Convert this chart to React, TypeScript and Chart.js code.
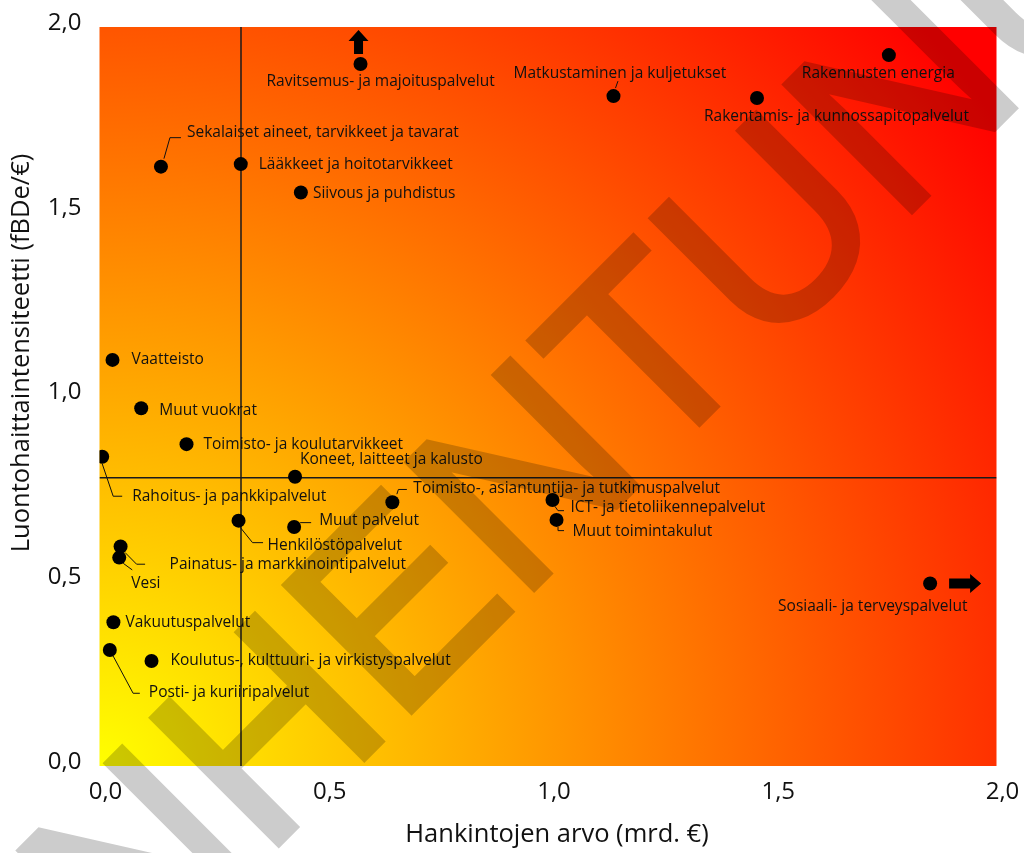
import React, { useEffect, useRef } from "react";
import { Chart, registerables } from "chart.js";

Chart.register(...registerables);

// ---------- data ----------
const categories: string[] = [
  "Ravitsemus- ja majoituspalvelut",
  "Matkustaminen ja kuljetukset",
  "Rakennusten energia",
  "Rakentamis- ja kunnossapitopalvelut",
  "Sekalaiset aineet, tarvikkeet ja tavarat",
  "Lääkkeet ja hoitotarvikkeet",
  "Siivous ja puhdistus",
  "Vaatteisto",
  "Muut vuokrat",
  "Toimisto- ja koulutarvikkeet",
  "Rahoitus- ja pankkipalvelut",
  "Koneet, laitteet ja kalusto",
  "Toimisto-, asiantuntija- ja tutkimuspalvelut",
  "ICT- ja tietoliikennepalvelut",
  "Muut toimintakulut",
  "Henkilöstöpalvelut",
  "Muut palvelut",
  "Painatus- ja markkinointipalvelut",
  "Vesi",
  "Sosiaali- ja terveyspalvelut",
  "Vakuutuspalvelut",
  "Posti- ja kuriiripalvelut",
  "Koulutus-, kulttuuri- ja virkistyspalvelut",
];

// Hankintojen arvo (mrd. €)
const procurementValue: number[] = [
  0.582, 1.146, 1.760, 1.466, 0.137, 0.315, 0.449, 0.029, 0.093, 0.194, 0.006,
  0.436, 0.653, 1.010, 1.019, 0.310, 0.434, 0.047, 0.044, 1.852, 0.031, 0.023,
  0.116,
];

// Luontohaittaintensiteetti (fBDe/€)
const impactIntensity: number[] = [
  1.900, 1.813, 1.924, 1.808, 1.622, 1.629, 1.552, 1.099, 0.968, 0.871, 0.837,
  0.783, 0.714, 0.720, 0.666, 0.664, 0.647, 0.594, 0.564, 0.494, 0.389, 0.314,
  0.284,
];

// reference (average) lines
const avgProcurement = 0.3155;
const avgIntensity = 0.78;

const xTickLabels: string[] = ["0,0", "0,5", "1,0", "1,5", "2,0"];
const yTickLabels: string[] = ["0,0", "0,5", "1,0", "1,5", "2,0"];
const xTitle = "Hankintojen arvo (mrd. €)";
const yTitle = "Luontohaittaintensiteetti (fBDe/€)";
const watermarkText = "VANHENTUNUT";

// indices of points whose value is off the chart (arrow marks)
const offChartArrows: { index: number; dir: "up" | "right" }[] = [
  { index: 0, dir: "up" },
  { index: 19, dir: "right" },
];

// ---------- label layout (pixel offsets relative to each point) ----------
type LabelLayout = { dx: number; dy: number; leader?: number[][] };
const labelLayout: LabelLayout[] = [
  { dx: -94, dy: 18 },
  { dx: -100, dy: -23, leader: [[2, -8], [4.5, -15]] },
  { dx: -87, dy: 18 },
  { dx: -53, dy: 19 },
  { dx: 26, dy: -34, leader: [[3, -8], [9, -29], [20, -29]] },
  { dx: 18, dy: 0 },
  { dx: 12, dy: 1 },
  { dx: 19, dy: 0 },
  { dx: 18, dy: 2 },
  { dx: 17, dy: 0 },
  { dx: 30, dy: 40, leader: [[0, 7], [11, 39.5], [20, 39.5]] },
  { dx: 5, dy: -17 },
  { dx: 21, dy: -14, leader: [[4.5, -8], [6, -12.7], [14.5, -12.7]] },
  { dx: 18, dy: 8, leader: [[2.5, 6.5], [5.5, 10.7], [11.5, 10.7]] },
  { dx: 16, dy: 12, leader: [[1.5, 7], [1.5, 10.7], [7.5, 10.7]] },
  { dx: 29, dy: 25, leader: [[1.5, 6.5], [14, 22], [24.5, 22]] },
  { dx: 25, dy: -6, leader: [[6, -4.3], [17, -4.3]] },
  { dx: 49, dy: 18, leader: [[4.5, 6], [16, 17.7], [24.5, 17.7]] },
  { dx: 12, dy: 26, leader: [[4, 5.7], [13, 12.3]] },
  { dx: -152, dy: 23 },
  { dx: 12, dy: 0 },
  { dx: 39, dy: 43, leader: [[3.3, 6], [23.3, 43.3], [30, 43.3]] },
  { dx: 19, dy: 0 },
];

const FONT = '"Open Sans", "Noto Sans", sans-serif';

const decorPlugin = {
  id: "decor",
  beforeDraw(chart: any) {
    const { ctx, chartArea } = chart;
    const { left, right, top, bottom } = chartArea;
    ctx.save();
    const g = ctx.createRadialGradient(left, bottom, 0, left, bottom, 1110);
    g.addColorStop(0, "#ffff00");
    g.addColorStop(1, "#ff0000");
    ctx.fillStyle = g;
    ctx.fillRect(left, top, right - left, bottom - top);
    ctx.restore();
  },
  afterDatasetsDraw(chart: any) {
    const { ctx } = chart;
    const xs = chart.scales.x;
    const ys = chart.scales.y;
    ctx.save();
    ctx.font = `15.5px ${FONT}`;
    ctx.fillStyle = "#111";
    ctx.textAlign = "left";
    ctx.textBaseline = "middle";
    ctx.strokeStyle = "#111";
    ctx.lineWidth = 1;
    categories.forEach((name, i) => {
      const px = xs.getPixelForValue(procurementValue[i]);
      const py = ys.getPixelForValue(impactIntensity[i]);
      const lay = labelLayout[i];
      if (lay.leader) {
        ctx.beginPath();
        lay.leader.forEach((p, k) => {
          if (k === 0) ctx.moveTo(px + p[0], py + p[1]);
          else ctx.lineTo(px + p[0], py + p[1]);
        });
        ctx.stroke();
      }
      ctx.fillText(name, px + lay.dx, py + lay.dy);
    });
    // arrows
    ctx.fillStyle = "#000";
    offChartArrows.forEach((a) => {
      const px = xs.getPixelForValue(procurementValue[a.index]);
      const py = ys.getPixelForValue(impactIntensity[a.index]);
      ctx.beginPath();
      if (a.dir === "up") {
        const cx = px - 2;
        ctx.moveTo(cx - 4.5, py - 10);
        ctx.lineTo(cx + 4.5, py - 10);
        ctx.lineTo(cx + 4.5, py - 23);
        ctx.lineTo(cx + 10, py - 23);
        ctx.lineTo(cx, py - 34);
        ctx.lineTo(cx - 10, py - 23);
        ctx.lineTo(cx - 4.5, py - 23);
      } else {
        ctx.moveTo(px + 19, py - 5);
        ctx.lineTo(px + 40, py - 5);
        ctx.lineTo(px + 40, py - 9.5);
        ctx.lineTo(px + 51, py);
        ctx.lineTo(px + 40, py + 9.5);
        ctx.lineTo(px + 40, py + 5);
        ctx.lineTo(px + 19, py + 5);
      }
      ctx.closePath();
      ctx.fill();
    });
    ctx.restore();
  },
  afterDraw(chart: any) {
    const { ctx } = chart;
    ctx.save();
    // axis titles
    ctx.fillStyle = "#111";
    ctx.font = `25.5px ${FONT}`;
    ctx.textAlign = "center";
    ctx.textBaseline = "middle";
    ctx.fillText(xTitle, 557, 835);
    ctx.save();
    ctx.translate(22, 353);
    ctx.rotate(-Math.PI / 2);
    ctx.fillText(yTitle, 0, 0);
    ctx.restore();
    ctx.restore();

    // watermark: drawn opaque off-screen, then composited translucently
    const dpr = chart.currentDevicePixelRatio || 1;
    const off = document.createElement("canvas");
    off.width = chart.canvas.width;
    off.height = chart.canvas.height;
    const o = off.getContext("2d");
    if (!o) return;
    o.setTransform(dpr, 0, 0, dpr, 0, 0);
    o.translate(708, 415);
    o.rotate(-Math.PI / 4);
    o.font = `260px "Liberation Sans", Arial, sans-serif`;
    o.textAlign = "left";
    o.textBaseline = "alphabetic";
    const pre = o.measureText(watermarkText.slice(0, 6)).width;
    const tw = o.measureText(watermarkText.charAt(6)).width;
    const sx = -(pre + tw / 2);
    o.fillStyle = "#000";
    o.strokeStyle = "#000";
    o.lineWidth = 6;
    o.lineJoin = "miter";
    o.fillText(watermarkText, sx, 0);
    o.strokeText(watermarkText, sx, 0);
    ctx.save();
    ctx.setTransform(1, 0, 0, 1, 0, 0);
    ctx.globalAlpha = 0.2;
    ctx.drawImage(off, 0, 0);
    ctx.restore();
  },
};

export default function App() {
  const canvasRef = useRef<HTMLCanvasElement | null>(null);

  useEffect(() => {
    document.body.style.margin = "0";
    document.body.style.overflow = "hidden";
    const canvas = canvasRef.current;
    if (!canvas) return;
    const points = procurementValue.map((x, i) => ({ x, y: impactIntensity[i] }));
    const chart = new Chart(canvas, {
      type: "scatter",
      data: {
        datasets: [
          {
            data: points,
            backgroundColor: "#000",
            borderWidth: 0,
            pointRadius: 7,
            pointHoverRadius: 7,
            order: 0,
          },
          {
            data: [
              { x: avgProcurement, y: 0 },
              { x: avgProcurement, y: 2 },
            ],
            showLine: true,
            borderColor: "#1a1a1a",
            borderWidth: 1.5,
            pointRadius: 0,
            order: 1,
          },
          {
            data: [
              { x: 0, y: avgIntensity },
              { x: 2, y: avgIntensity },
            ],
            showLine: true,
            borderColor: "#1a1a1a",
            borderWidth: 1.5,
            pointRadius: 0,
            order: 1,
          },
        ],
      },
      options: {
        responsive: false,
        animation: false,
        events: [],
        layout: { padding: { top: 27, right: 27.5, left: 0, bottom: 0 } },
        plugins: { legend: { display: false }, tooltip: { enabled: false } },
        scales: {
          x: {
            type: "linear",
            min: 0,
            max: 2,
            grid: { display: false, drawTicks: false },
            border: { display: false },
            afterFit(scale: any) {
              scale.height = 87;
              scale.paddingLeft = 0;
              scale.paddingRight = 0;
            },
            ticks: {
              stepSize: 0.5,
              padding: 12,
              labelOffset: 6,
              color: "#111",
              font: { family: FONT, size: 24 },
              callback: (v: any) => xTickLabels[Math.round(Number(v) / 0.5)] ?? "",
            },
          },
          y: {
            type: "linear",
            min: 0,
            max: 2,
            grid: { display: false, drawTicks: false },
            border: { display: false },
            afterFit(scale: any) {
              scale.width = 99.5;
              scale.paddingTop = 0;
              scale.paddingBottom = 0;
            },
            ticks: {
              stepSize: 0.5,
              padding: 18,
              labelOffset: -4,
              color: "#111",
              font: { family: FONT, size: 24 },
              callback: (v: any) => yTickLabels[Math.round(Number(v) / 0.5)] ?? "",
            },
          },
        },
      },
      plugins: [decorPlugin],
    } as any);
    return () => chart.destroy();
  }, []);

  return (
    <div style={{ width: 1024, height: 853, background: "#fff" }}>
      <canvas ref={canvasRef} width={1024} height={853} style={{ display: "block" }} />
    </div>
  );
}
